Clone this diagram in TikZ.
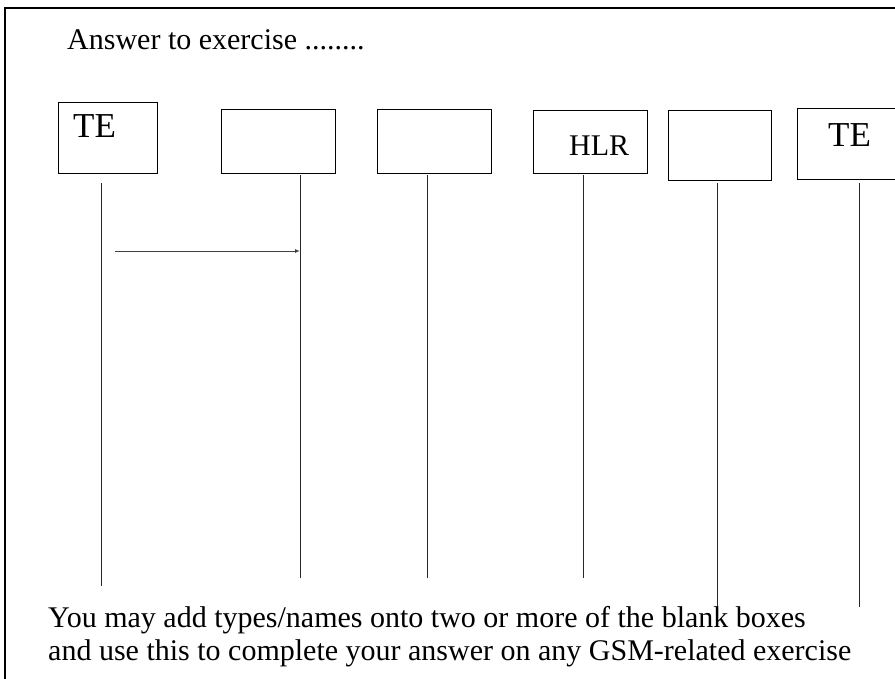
\documentclass[tikz,border=0pt]{standalone}
\usepackage{fontspec}
\setmainfont{Liberation Serif}
\usetikzlibrary{arrows.meta}

\tikzset{
  entity/.style={draw, line width=0.8pt, inner sep=0pt, outer sep=0pt, anchor=north west},
  lifeline/.style={line width=0.9pt, draw=black!85},
  msg/.style={line width=0.9pt, draw=black!75, -{Latex[length=5pt,width=4pt]}},
  lbl/.style={inner sep=0pt, anchor=base west},
  note/.style={inner sep=0pt, anchor=base west, font=\fontsize{30}{33}\selectfont}
}

\begin{document}
\begin{tikzpicture}[x=1pt,y=-1pt]
  % page area and outer frame (runs off the right and bottom edges)
  \useasboundingbox (0,0) rectangle (895,678);
  \clip (0,0) rectangle (895,678);
  \draw[line width=2.5pt] (5,8) rectangle (910,700);

  % heading
  \node[note] (title) at (67,49) {Answer to exercise ........};

  % entity boxes
  \node[entity, minimum width=99pt,  minimum height=71pt] (b1) at (58,102)  {};
  \node[entity, minimum width=114pt, minimum height=64pt] (b2) at (221,109) {};
  \node[entity, minimum width=114pt, minimum height=64pt] (b3) at (377,109) {};
  \node[entity, minimum width=114pt, minimum height=63pt] (b4) at (533,110) {};
  \node[entity, minimum width=103pt, minimum height=70pt] (b5) at (668,110) {};
  \node[entity, minimum width=110pt, minimum height=71pt] (b6) at (797,108) {};

  % box labels
  \node[lbl, font=\fontsize{35}{35}\selectfont] (t1) at (73,137)  {TE};
  \node[lbl, font=\fontsize{30}{30}\selectfont] (t4) at (569,155) {HLR};
  \node[lbl, font=\fontsize{35}{35}\selectfont] (t6) at (828,146) {TE};

  % lifeline end points
  \coordinate (l1t) at (101,183); \coordinate (l1b) at (101,586);
  \coordinate (l2t) at (300,175); \coordinate (l2b) at (300,578);
  \coordinate (l3t) at (427,175); \coordinate (l3b) at (427,578);
  \coordinate (l4t) at (583,175); \coordinate (l4b) at (583,578);
  \coordinate (l5t) at (717,183); \coordinate (l5b) at (717,607);
  \coordinate (l6t) at (859,183); \coordinate (l6b) at (859,607);

  \draw[lifeline] (l1t) -- (l1b);
  \draw[lifeline] (l2t) -- (l2b);
  \draw[lifeline] (l3t) -- (l3b);
  \draw[lifeline] (l4t) -- (l4b);
  \draw[lifeline] (l5t) -- (l5b);
  \draw[lifeline] (l6t) -- (l6b);

  % example message
  \coordinate (m1s) at (115,251);
  \coordinate (m1e) at (300,251);
  \draw[msg] (m1s) -- (m1e);

  % instructions
  \node[note] (n1) at (48,627) {You may add types/names onto two or more of the blank boxes};
  \node[note] (n2) at (48,660) {and use this to complete your answer on any GSM-related exercise};
\end{tikzpicture}
\end{document}
